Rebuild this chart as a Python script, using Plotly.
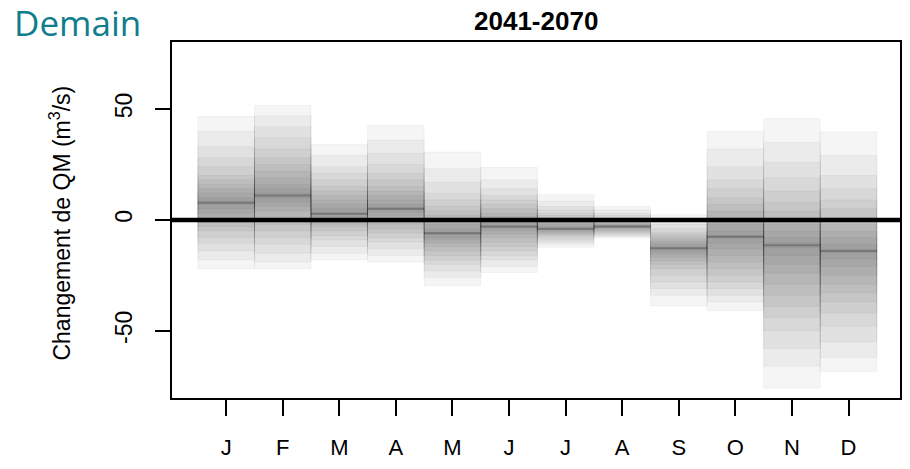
import numpy as np
import plotly.graph_objects as go

months = ["J", "F", "M", "A", "M", "J", "J", "A", "S", "O", "N", "D"]
title = "2041-2070"
y_title = "Changement de QM (m<sup>3</sup>/s)"
y_ticks = [-50, 0, 50]
y_tick_text = ["-50", "0", "50"]

# ensemble members (changes in mean monthly flow, m3/s)
jan = [-22, -18, -14, -10.5, -8, -5, -3, -1, 1, 3, 5, 7, 8.5, 10, 12, 14, 16, 18, 20, 24, 28, 33, 40, 46.6]
feb = [-22, -19, -15, -11, -8, -5, -2, 1, 4, 6, 8, 10, 12, 14, 16, 19, 22, 25, 28, 32, 37, 42, 47, 51.6]
mar = [-18, -15, -12, -9, -7, -5, -3, -2, -1, 0.5, 1.5, 2.5, 3, 5, 7, 9, 11, 13, 15, 18, 21, 24, 29, 34]
apr = [-19, -16, -13, -10, -8, -6, -4, -2, 0, 2, 3.5, 4.5, 5.5, 7, 9, 11, 13, 15, 18, 21, 25, 30, 36, 42.5]
may = [-29.7, -26, -23, -20, -18, -16, -14, -12, -10.5, -9, -8, -6.5, -5.5, -4, -2, 0, 2, 4, 6, 9, 12, 17, 23, 30.6]
jun = [-23.7, -21, -18, -16, -14, -12, -10, -8, -6.5, -5, -4, -3.3, -2.7, -1.5, 0, 1.5, 3, 5, 7, 9, 11, 14, 18, 23.7]
jul = [-12.3, -11, -10, -9, -8, -7, -6.5, -6, -5.5, -5, -4.5, -4.2, -3.8, -3, -2, -1, 0, 1, 2, 3, 4.5, 6, 8.5, 11.4]
aug = [-8.2, -7.5, -7, -6.5, -6, -5.5, -5, -4.5, -4, -3.7, -3.4, -3.1, -2.9, -2.6, -2.2, -1.8, -1.3, -0.8, 0, 1, 2, 3, 4.5, 6]
sep = [-38.8, -34, -31, -28, -25, -22, -20, -18.5, -17, -15.5, -14.5, -13.3, -12.3, -11.5, -10.5, -9.5, -8.5, -7.5, -6.5, -5.5, -4, -2, 0, 2.3]
octo = [-41, -37, -34, -31, -28, -25, -22, -19, -16, -13, -10.5, -8.2, -7, -5, -2, 1, 4, 7, 10, 14, 18, 24, 32, 40]
nov = [-75.8, -66, -58, -50, -44, -39, -34, -29, -24, -20, -16, -12.5, -10.3, -8, -5, -2, 1, 4, 8, 13, 19, 26, 35, 45.7]
dec = [-68.5, -62, -55, -48, -42, -37, -33, -29, -25, -21, -17.5, -14.7, -13.3, -11, -8, -5, -2, 1, 5, 9, 14, 20, 29, 39.7]

ensemble = [jan, feb, mar, apr, may, jun, jul, aug, sep, octo, nov, dec]

fig = go.Figure()
shapes = []
band_col = "rgba(0,0,0,0.04)"
for i, vals in enumerate(ensemble):
    x = i + 1
    v = sorted(vals)
    n = len(v)
    for k in range(n // 2):
        shapes.append(dict(type="rect", xref="x", yref="y",
                           x0=x - 0.5, x1=x + 0.5, y0=v[k], y1=v[n - 1 - k],
                           fillcolor=band_col, line=dict(color=band_col, width=1)))
    med = float(np.median(v))
    shapes.append(dict(type="line", xref="x", yref="y", x0=x - 0.5, x1=x + 0.5,
                       y0=med, y1=med, line=dict(color="rgba(0,0,0,0.22)", width=2)))

shapes.append(dict(type="line", xref="paper", yref="y", x0=0, x1=1, y0=0, y1=0,
                   line=dict(color="black", width=4.5)))

fig.add_trace(go.Scatter(x=list(range(1, 13)), y=[float(np.median(v)) for v in ensemble],
                         mode="markers", marker=dict(opacity=0), hoverinfo="skip",
                         showlegend=False))

font_family = "Liberation Sans, Arial, sans-serif"
fig.update_layout(
    width=910, height=469,
    margin=dict(l=172, r=10, t=42, b=71, autoexpand=False),
    paper_bgcolor="white", plot_bgcolor="white",
    shapes=shapes,
    showlegend=False,
    font=dict(family=font_family, color="black"),
    xaxis=dict(range=[0.043, 12.91], tickvals=list(range(1, 13)), ticktext=months,
               showline=True, mirror=True, linecolor="black", linewidth=1.7,
               ticks="outside", ticklen=16, tickwidth=1.5, tickcolor="black",
               showgrid=False, zeroline=False, ticklabelstandoff=13, automargin=False,
               tickfont=dict(size=22, family=font_family)),
    yaxis=dict(range=[-80.3, 80.2], tickvals=y_ticks, ticktext=y_tick_text,
               showline=True, mirror=True, linecolor="black", linewidth=1.7,
               ticks="outside", ticklen=15, tickwidth=1.5, tickcolor="black",
               showgrid=False, zeroline=False, tickangle=-90, ticklabelstandoff=14,
               automargin=False,
               tickfont=dict(size=23, family=font_family)),
    annotations=[
        dict(text="<b>" + title + "</b>", xref="paper", yref="paper", x=0.5, y=1 + (42 - 21) / 356,
             xanchor="center", yanchor="middle", showarrow=False,
             font=dict(size=26, family=font_family, color="black")),
        dict(text=y_title, xref="paper", yref="paper", x=(60 - 172) / 728, y=0.49,
             xanchor="center", yanchor="middle", textangle=-90, showarrow=False,
             font=dict(size=23, family=font_family, color="black")),
        dict(text="Demain", xref="paper", yref="paper", x=(12 - 172) / 728,
             y=1 + (42 - 23) / 356, xanchor="left", yanchor="middle", showarrow=False,
             font=dict(size=35, family="Open Sans, sans-serif", color="#0f7d8b")),
    ],
)

fig.write_html("out.html", config={"displayModeBar": False},
               post_script="document.body.style.margin='0';")
